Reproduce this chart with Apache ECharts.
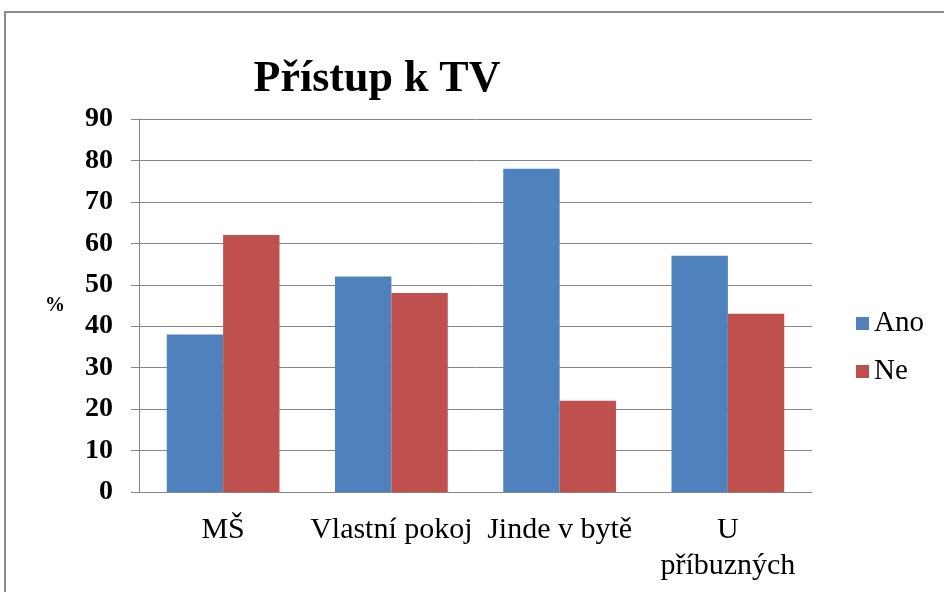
<!DOCTYPE html>
<html>
<head>
<meta charset="utf-8">
<script src="https://cdn.jsdelivr.net/npm/echarts@6/dist/echarts.min.js"></script>
<style>
  html, body { margin: 0; padding: 0; background: #fff; }
  #chart { width: 944px; height: 592px; }
</style>
</head>
<body>
<div id="chart"></div>
<script>
// data
var categories = ['MŠ', 'Vlastní pokoj', 'Jinde v bytě', 'U\npříbuzných'];
var ano = [38, 52, 78, 57];
var ne = [62, 48, 22, 43];
var seriesNames = ['Ano', 'Ne'];

var serif = '"Liberation Serif", "DejaVu Serif", serif';
var gray = '#868686';

var chart = echarts.init(document.getElementById('chart'));
chart.setOption({
  animation: false,
  backgroundColor: '#fff',
  title: {
    text: 'Přístup k TV',
    left: 372,
    top: 53,
    textAlign: 'center',
    textStyle: { fontFamily: serif, fontWeight: 'bold', fontSize: 44, color: '#000' }
  },
  // outer frame
  graphic: [{
    type: 'rect',
    shape: { x: 5, y: 12, width: 980, height: 620 },
    style: { fill: 'none', stroke: '#8c8c8c', lineWidth: 2 },
    silent: true
  }],
  legend: {
    orient: 'vertical',
    left: 851,
    top: 304,
    itemWidth: 13,
    itemHeight: 13,
    itemGap: 19,
    icon: 'rect',
    data: seriesNames,
    textStyle: { fontFamily: serif, fontSize: 29, color: '#000', padding: [0, 0, 0, 0] }
  },
  grid: { left: 139, top: 119, right: 132, bottom: 100, outerBoundsMode: 'none' },
  xAxis: {
    type: 'category',
    data: categories,
    axisLine: { lineStyle: { color: gray } },
    axisTick: { length: 8, lineStyle: { color: gray } },
    axisLabel: {
      color: '#000', fontFamily: serif, fontSize: 30, margin: 20,
      lineHeight: 36, interval: 0
    }
  },
  yAxis: {
    type: 'value',
    min: 0, max: 90, interval: 10,
    name: '%',
    nameLocation: 'middle',
    nameRotate: 0,
    nameGap: 74,
    nameTextStyle: { fontFamily: serif, fontWeight: 'bold', fontSize: 20, color: '#000' },
    axisLine: { show: true, lineStyle: { color: gray } },
    axisTick: { show: true, length: 8, lineStyle: { color: gray } },
    splitLine: { lineStyle: { color: gray } },
    axisLabel: { color: '#000', fontFamily: serif, fontWeight: 'bold', fontSize: 28, margin: 26 }
  },
  series: [
    { name: seriesNames[0], type: 'bar', data: ano, itemStyle: { color: '#4F81BD' }, barGap: '0%', barCategoryGap: '33%' },
    { name: seriesNames[1], type: 'bar', data: ne, itemStyle: { color: '#C0504D' }, barGap: '0%', barCategoryGap: '33%' }
  ]
});
</script>
</body>
</html>
